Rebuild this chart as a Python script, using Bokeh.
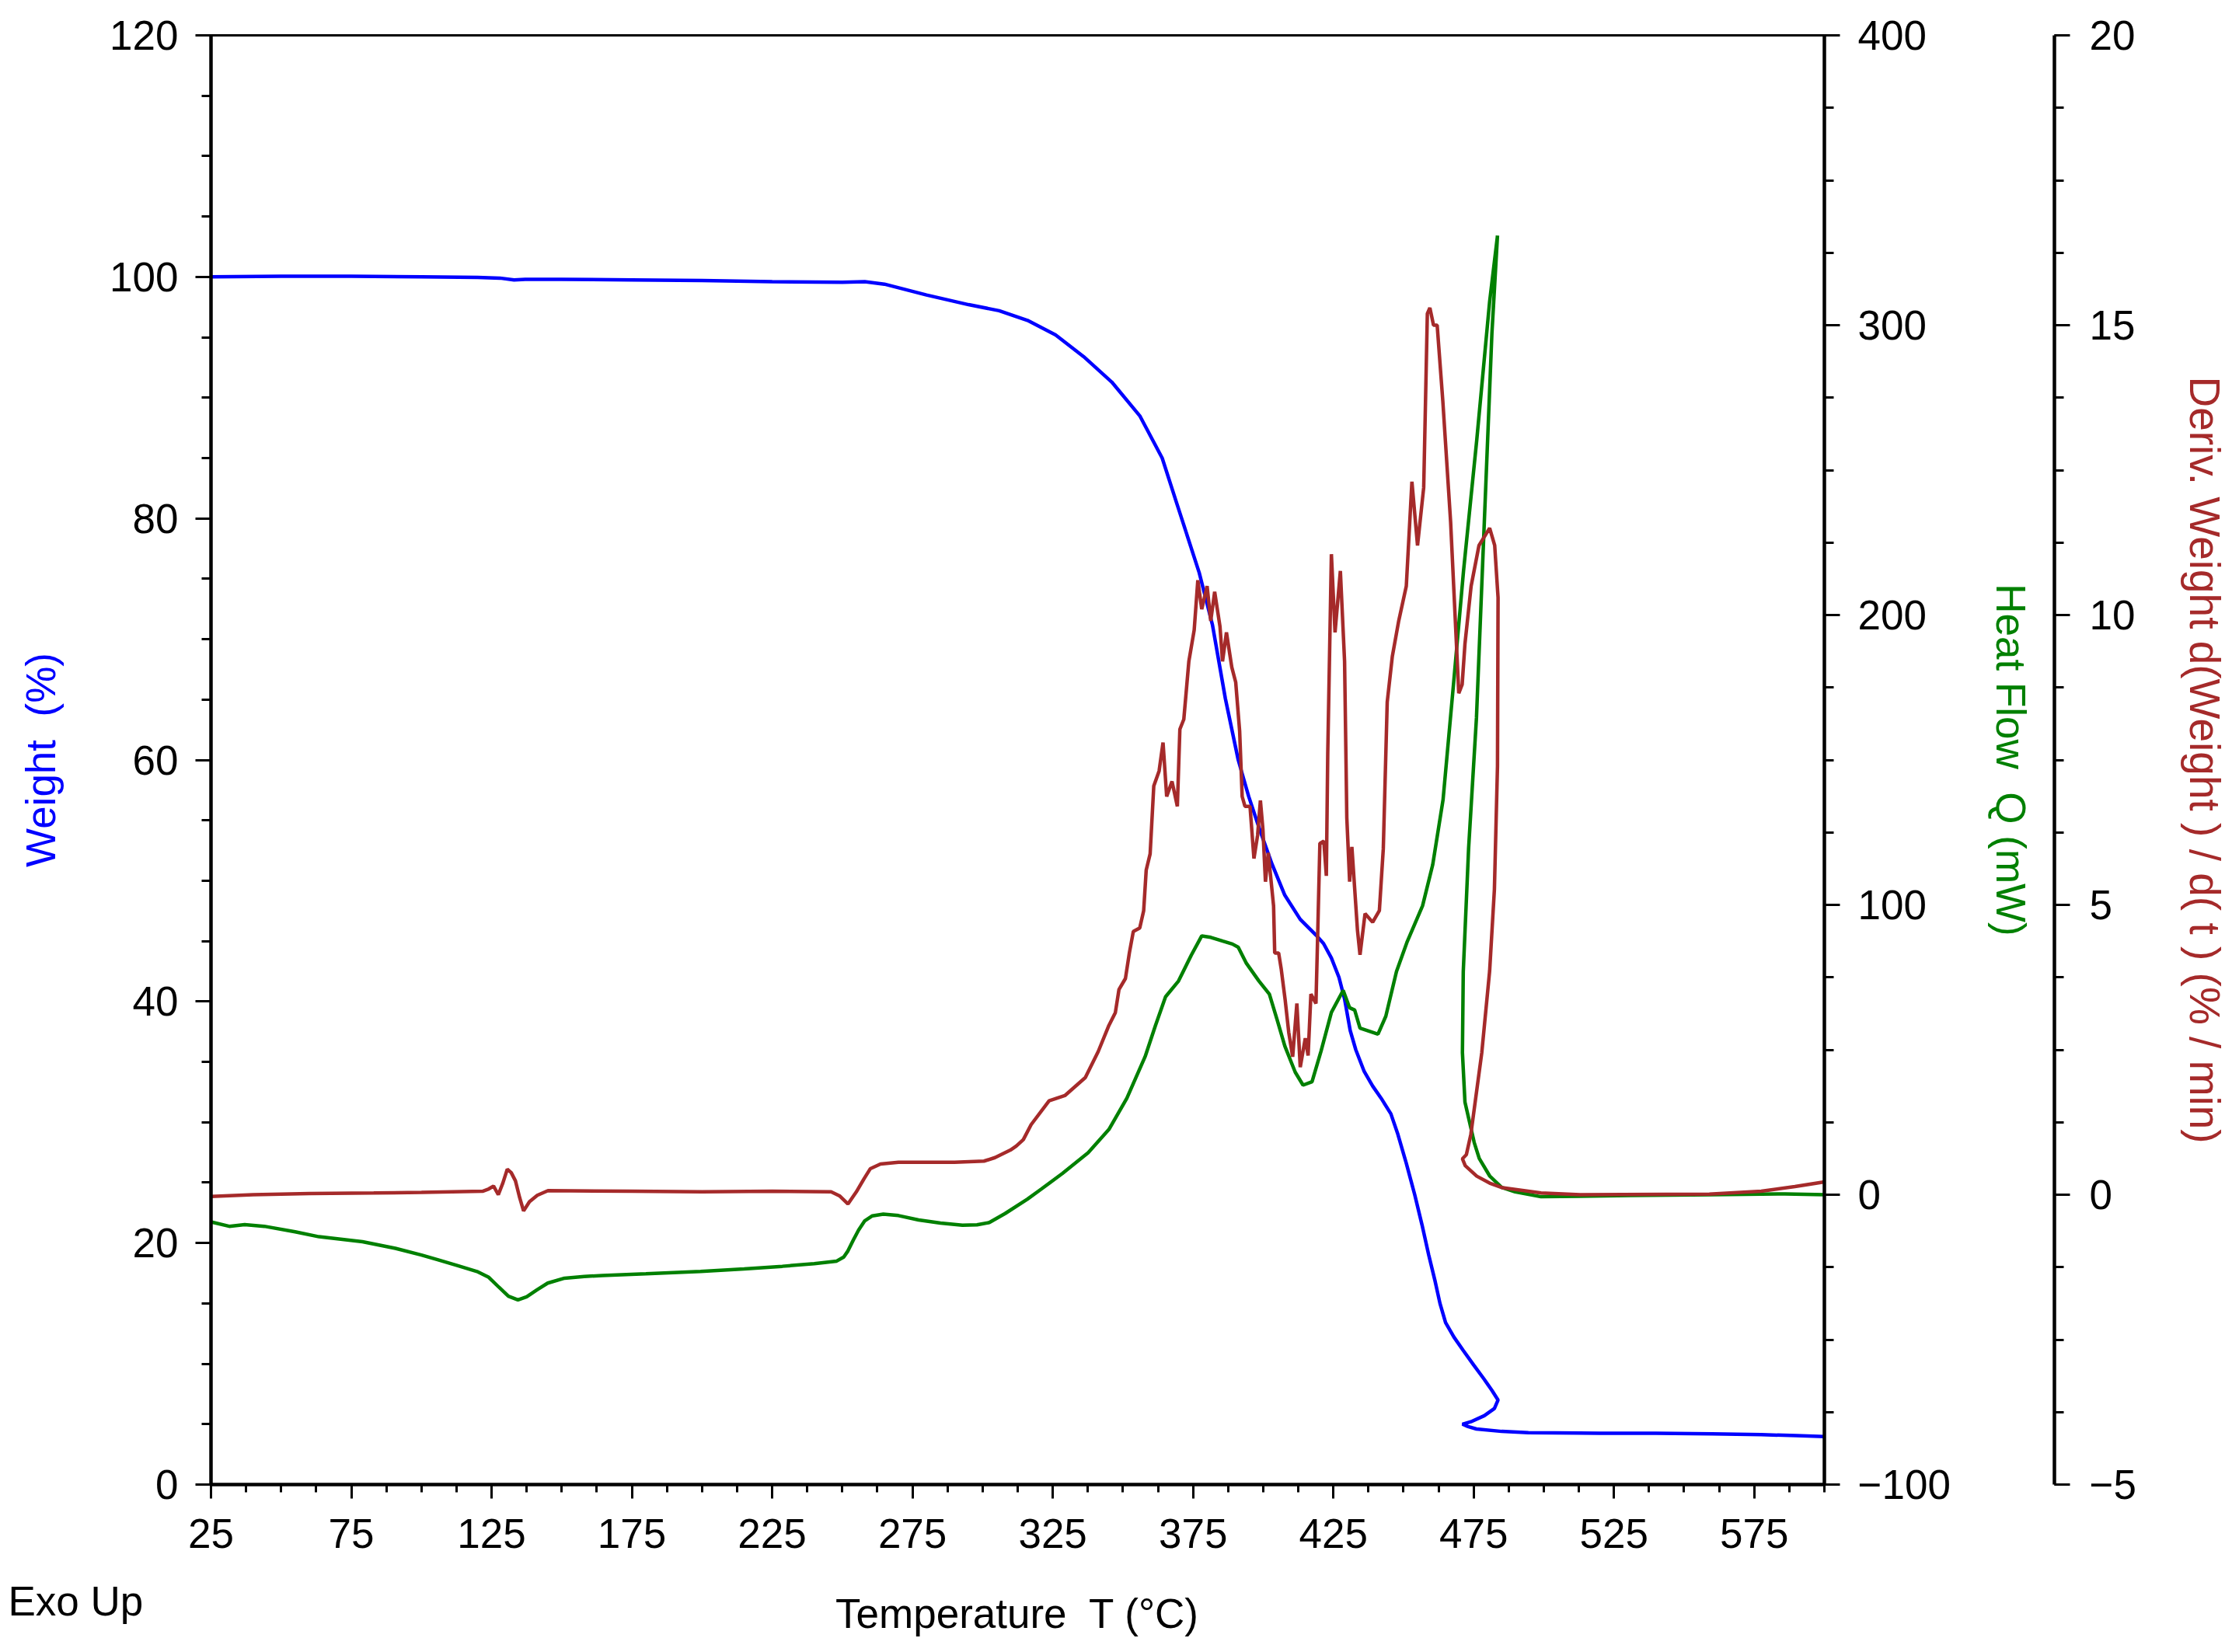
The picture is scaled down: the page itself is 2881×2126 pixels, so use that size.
from bokeh.plotting import figure
from bokeh.models import Range1d, LinearAxis, FixedTicker, Title
from bokeh.embed import file_html
from bokeh.resources import INLINE

# ---------------- data ----------------
temp_w = [25, 50, 75, 100, 120, 128, 133, 137, 150, 175, 200, 225, 250, 258, 265,
          280, 295, 305.9, 316, 326, 336, 346, 356, 364, 369.4, 377.2, 381.9, 386.5,
          391.1, 394.8, 398.5, 403.1, 407.7, 413.2, 418.8, 421.5, 424.3, 427, 429,
          431, 433, 436, 439, 442, 445.5, 448, 451, 454, 456.6, 459, 461.3, 463, 465,
          468, 471.3, 475, 478.8, 481.5, 483.7, 482.4, 478.8, 474, 471, 473, 476, 485,
          494.5, 520, 540, 560, 577.5, 590, 600]
weight = [100.0, 100.05, 100.05, 100.0, 99.95, 99.9, 99.75, 99.8, 99.8, 99.75, 99.7,
          99.6, 99.55, 99.6, 99.4, 98.5, 97.7, 97.2, 96.4, 95.2, 93.4, 91.3, 88.5, 85.0,
          81.1, 75.5, 71.2, 65.1, 60.0, 57.0, 54.4, 51.4, 48.8, 46.8, 45.5, 44.8, 43.6,
          42.0, 40.2, 37.6, 36.0, 34.2, 33.0, 32.0, 30.7, 29.0, 26.6, 24.0, 21.5, 19.0,
          16.8, 15.0, 13.4, 12.2, 11.1, 9.9, 8.7, 7.8, 7.0, 6.3, 5.7, 5.2, 5.0, 4.8,
          4.6, 4.4, 4.29, 4.25, 4.25, 4.2, 4.13, 4.05, 3.97]

temp_q = [25, 31.5, 37, 44, 55, 63.5, 79, 90.7, 100, 106, 113, 119.8, 124, 127.6, 131,
          134.4, 137.5, 141.2, 145, 151, 158, 164.5, 180, 199.5, 215, 228.6, 240, 248,
          250.5, 252, 254, 255.8, 258, 260.7, 264.6, 270, 277.2, 285, 292.8, 298, 302.4,
          308, 316, 321, 328.4, 337.6, 345, 351.4, 357.9, 361.6, 365.2, 369.8, 374.4,
          378.1, 381.3, 385.6, 389, 391.1, 393.9, 398.5, 402.2, 405, 407.7, 411.4, 414.2,
          417.4, 420.6, 424.3, 428.5, 430.8, 432.6, 434.5, 440.9, 443.7, 447.5, 451.2,
          456.8, 460.4, 464.1, 467.8, 471.4, 476.1, 480.7, 483.5, 481.5, 478.8, 476,
          473.2, 471.3, 471, 471.9, 475.2, 477, 480.7, 485, 489.8, 499, 531, 560, 586, 600]
heat_flow = [-9.4, -10.9, -10.3, -10.9, -12.8, -14.5, -16.2, -18.5, -20.8, -22.5, -24.5,
             -26.5, -28.5, -31.9, -35.0, -36.3, -35.2, -32.8, -30.5, -28.8, -28.2, -27.9,
             -27.3, -26.5, -25.6, -24.7, -23.8, -22.9, -21.5, -19.4, -15.5, -12.2, -9.0,
             -7.3, -6.7, -7.2, -8.7, -9.8, -10.5, -10.4, -9.6, -6.5, -1.5, 2.0, 7.3, 14.5,
             22.5, 33.3, 47.6, 58.4, 68.3, 73.7, 82.7, 89.3, 88.8, 87.5, 86.5, 85.4, 80.0,
             73.7, 69.2, 60.2, 51.3, 42.3, 37.8, 39.0, 49.5, 62.9, 70.5, 64.5, 63.7, 57.5,
             55.4, 61.6, 77.0, 87.0, 99.7, 113.8, 136.3, 175.9, 215.3, 260.3, 308.2, 330.9,
             297.0, 232.0, 164.5, 119.4, 77.0, 49.0, 32.0, 18.0, 12.5, 6.5, 2.5, 1.0, -0.7,
             -0.3, 0.0, 0.3, 0.0]

temp_d = [25, 40, 60, 83, 100, 121.8, 124, 125.7, 127.4, 129, 130.6, 132, 133.5, 135,
          136.4, 138.5, 141.3, 145.1, 175, 200, 225, 246, 249, 252, 255, 257.8, 260, 263.6,
          270, 290, 300.5, 304.4, 309.9, 312, 314.5, 317.3, 323.7, 329.3, 336.6, 341.2,
          345, 347.3, 348.6, 350.9, 352.3, 353.7, 356, 357.4, 358.3, 359.7, 361, 362.9,
          364.3, 365.6, 367.5, 369.4, 370.3, 371.7, 373.5, 375.4, 376.7, 378.1, 380,
          381.3, 382.7, 384.6, 385.5, 386.9, 388.8, 390.2, 391.6, 392.5, 393.5, 395.3,
          396.7, 398, 399, 399.9, 400.8, 401.8, 403.7, 404.1, 405.5, 406.4, 407.8, 409.1,
          410.5, 412, 413.2, 415, 416, 417, 418.8, 419.4, 420.2, 421.6, 422.5, 423, 424.3,
          425.6, 427.5, 429, 429.8, 430.8, 431.6, 433.6, 434.5, 436.3, 439, 441.4, 442.8,
          444.2, 446, 448.3, 451, 453, 455, 457.2, 458.5, 459.4, 460.7, 462, 464, 466.8,
          468.6, 469.7, 470.9, 471.9, 474.1, 476.9, 480.7, 482.5, 483.7, 483.5, 482.4,
          480.7, 477.9, 474, 472.4, 471, 472, 476.1, 480.7, 485.3, 499, 513, 559, 577.5,
          589.5, 600]
deriv = [-0.03, 0.0, 0.02, 0.03, 0.04, 0.06, 0.1, 0.15, 0.0, 0.2, 0.44, 0.38, 0.24, -0.05,
         -0.28, -0.12, -0.01, 0.07, 0.06, 0.05, 0.06, 0.05, -0.02, -0.16, 0.05, 0.28, 0.45,
         0.53, 0.56, 0.56, 0.58, 0.64, 0.77, 0.84, 0.95, 1.21, 1.62, 1.71, 2.02, 2.47, 2.92,
         3.14, 3.54, 3.73, 4.17, 4.54, 4.6, 4.9, 5.6, 5.88, 7.05, 7.31, 7.8, 6.87, 7.13,
         6.7, 8.03, 8.2, 9.2, 9.74, 10.6, 10.1, 10.5, 9.9, 10.4, 9.8, 9.2, 9.7, 9.1, 8.84,
         8.0, 6.87, 6.7, 6.7, 5.8, 6.2, 6.8, 6.3, 5.4, 5.9, 4.98, 4.17, 4.17, 3.9, 3.37,
         2.8, 2.38, 3.3, 2.2, 2.7, 2.4, 3.46, 3.3, 4.45, 6.06, 6.1, 5.5, 7.6, 11.05, 9.7,
         10.76, 9.2, 6.5, 5.4, 6.0, 4.56, 4.14, 4.85, 4.7, 4.9, 5.97, 8.5, 9.28, 9.9, 10.5,
         12.3, 11.2, 12.2, 15.2, 15.3, 15.0, 15.0, 13.7, 11.6, 9.77, 8.65, 8.8, 9.5, 10.5,
         11.2, 11.5, 11.2, 10.3, 7.4, 5.27, 3.86, 2.45, 1.04, 0.69, 0.62, 0.5, 0.32, 0.2,
         0.12, 0.03, 0.0, 0.01, 0.06, 0.14, 0.22]

x_major = [25, 75, 125, 175, 225, 275, 325, 375, 425, 475, 525, 575]
x_minor = [25 + 12.5 * k for k in range(47)]
w_major = [0, 20, 40, 60, 80, 100, 120]
w_minor = list(range(0, 121, 5))
q_major = [-100, 0, 100, 200, 300, 400]
q_minor = list(range(-100, 401, 25))
d_major = [-5, 0, 5, 10, 15, 20]
d_minor = [-5 + 1.25 * k for k in range(21)]

BLUE = "#0000FF"
GREEN = "#008000"
BROWN = "#A52A2A"
FONT = "Liberation Sans"
FS = "53px"

W, H = 2873, 2124
FRAME_L, FRAME_R, FRAME_T, FRAME_B = 271, 2347, 45, 1910
p = figure(width=W, height=H, output_backend="svg", toolbar_location=None,
           x_range=Range1d(25, 600), y_range=Range1d(0, 120),
           min_border_left=FRAME_L, min_border_right=W - FRAME_R, min_border_top=FRAME_T,
           min_border_bottom=H - FRAME_B)
p.extra_y_ranges = {"hf": Range1d(-100, 400), "dw": Range1d(-5, 20)}
p.grid.visible = False
p.outline_line_color = "black"
p.outline_line_width = 3
p.outline_line_alpha = 1.0
p.background_fill_color = "white"
p.border_fill_color = "white"


def style_axis(ax, major, minor, tick_out, minor_out, standoff):
    ax.ticker = FixedTicker(ticks=major, minor_ticks=minor)
    ax.axis_line_width = 4.5
    ax.axis_line_color = "black"
    ax.major_tick_line_width = 3
    ax.minor_tick_line_width = 3
    ax.major_tick_line_color = "black"
    ax.minor_tick_line_color = "black"
    ax.major_tick_in = 0
    ax.minor_tick_in = 0
    ax.major_tick_out = tick_out
    ax.minor_tick_out = minor_out
    ax.major_label_text_font = FONT
    ax.major_label_text_font_size = FS
    ax.major_label_text_color = "black"
    ax.major_label_standoff = standoff
    ax.axis_label_text_font = FONT
    ax.axis_label_text_font_size = FS
    ax.axis_label_text_font_style = "normal"


xa = p.xaxis[0]
style_axis(xa, x_major, x_minor, 18, 10, 26)
xa.axis_label = "Temperature\u00a0 T (°C)"
xa.axis_label_text_color = "black"
xa.axis_label_standoff = 52

ya = p.yaxis[0]
style_axis(ya, w_major, w_minor, 20, 12, 22)
ya.axis_label = "Weight\u00a0 (%)"
ya.axis_label_text_color = BLUE
ya.axis_label_standoff = 56

hf_axis = LinearAxis(y_range_name="hf")
style_axis(hf_axis, q_major, q_minor, 20, 12, 23)
hf_axis.axis_label = "Heat Flow\u00a0 Q (mW)"
hf_axis.axis_label_text_color = GREEN
hf_axis.axis_label_standoff = 45
p.add_layout(hf_axis, "right")

# invisible gap between the heat-flow axis block and the derivative axis
gap_axis = LinearAxis(y_range_name="hf", ticker=FixedTicker(ticks=[150], minor_ticks=[]),
                      major_tick_out=24, major_tick_in=0, minor_tick_out=0,
                      minor_tick_in=0, axis_line_color=None,
                      major_tick_line_color="white", major_tick_line_width=1,
                      minor_tick_line_color=None, major_label_text_alpha=0.0,
                      major_label_text_font_size="1px", major_label_standoff=0)
p.add_layout(gap_axis, "right")

dw_axis = LinearAxis(y_range_name="dw")
style_axis(dw_axis, d_major, d_minor, 20, 12, 25)
dw_axis.axis_label = "Deriv. Weight d(Weight ) / d( t ) (% / min)"
dw_axis.axis_label_text_color = BROWN
dw_axis.axis_label_text_font_size = "55px"
dw_axis.axis_label_standoff = 54
p.add_layout(dw_axis, "right")

p.line(temp_w, weight, line_color=BLUE, line_width=4.5)
p.line(temp_q, heat_flow, line_color=GREEN, line_width=4.5, y_range_name="hf")
p.line(temp_d, deriv, line_color=BROWN, line_width=4.5, y_range_name="dw")

# "Exo Up" note in the lower-left corner, pulled up beside the x-axis title
exo = Title(text="Exo Up", align="left", vertical_align="top", offset=-261,
            standoff=-156, text_font=FONT, text_font_size=FS, text_font_style="normal",
            text_color="black")
p.add_layout(exo, "below")

open("out.html", "w").write(file_html(p, INLINE))
